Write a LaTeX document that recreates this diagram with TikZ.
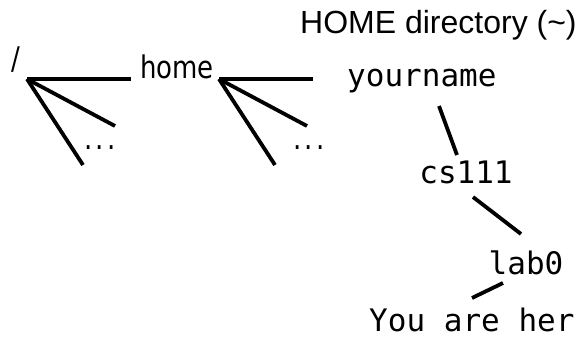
\documentclass[tikz,border=0pt]{standalone}
\usepackage{fontspec}
\newfontfamily\monof{DejaVu Sans Mono}
\newfontfamily\humf{DejaVu Sans}
\newfontfamily\arialf{Liberation Sans}
\begin{document}
\begin{tikzpicture}[x=1pt,y=-1pt,
  mono/.style={inner sep=0pt,anchor=base,font=\monof\fontsize{31}{31}\selectfont},
  hum/.style={inner sep=0pt,anchor=base,yscale=1.2,font=\humf\fontsize{26}{26}\selectfont},
  edge/.style={line width=3.8pt}]
\useasboundingbox (0,0) rectangle (578,339);
% texts
\node[hum] (root) at (16,70) {/};
\node[hum,anchor=base west] (home) at (140,79) {home};
\node[hum] (dots1) at (100,150) {.\kern3pt.\kern3pt.};
\node[hum] (dots2) at (309,150) {.\kern3pt.\kern3pt.};
\node[inner sep=0pt,anchor=base west,font=\arialf\fontsize{32}{32}\selectfont] (homedir) at (300,34) {HOME directory (\char"007E)};
\node[mono,anchor=base west] (yourname) at (347,87) {yourname};
\node[mono] (cs) at (466,184) {cs111};
\node[mono] (lab) at (526,274) {lab0};
\node[mono,anchor=base west] (here) at (369,331) {You are her};
% connector end points
\coordinate (r0) at (27,79);
\coordinate (r1) at (131,79);
\coordinate (r2) at (115,126);
\coordinate (r3) at (83,165);
\coordinate (h0) at (219,79);
\coordinate (h1) at (313,79);
\coordinate (h2) at (307,126);
\coordinate (h3) at (275,165);
\coordinate (y1) at (439,106);
\coordinate (c0) at (457,155);
\coordinate (c1) at (473,197);
\coordinate (l0) at (521,234);
\coordinate (l1) at (503,283);
\coordinate (u0) at (472,298);
% connectors
\draw[edge] (r0) -- (r1);
\draw[edge] (r0) -- (r2);
\draw[edge] (r0) -- (r3);
\draw[edge] (h0) -- (h1);
\draw[edge] (h0) -- (h2);
\draw[edge] (h0) -- (h3);
\draw[edge] (y1) -- (c0);
\draw[edge] (c1) -- (l0);
\draw[edge] (l1) -- (u0);
\end{tikzpicture}
\end{document}
